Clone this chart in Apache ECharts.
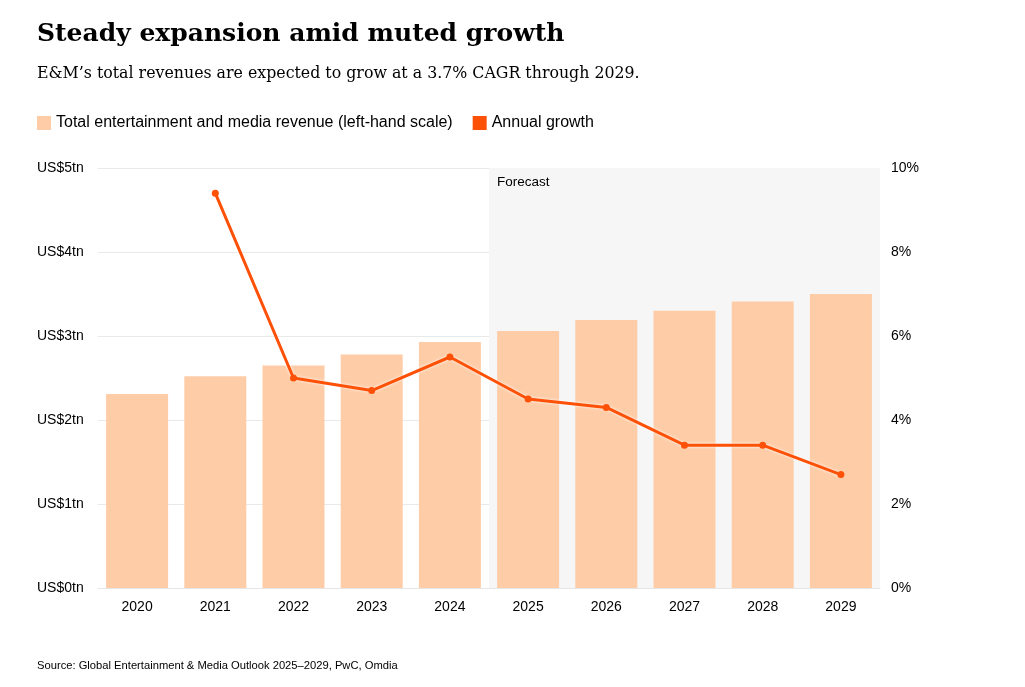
<!DOCTYPE html>
<html><head><meta charset="utf-8">
<script src="https://cdn.jsdelivr.net/npm/echarts@6/dist/echarts.min.js"></script>
<style>html,body{margin:0;padding:0;background:#fff}#c{width:1025px;height:687px}</style>
</head><body><div id="c"></div>
<script>
const years = ['2020','2021','2022','2023','2024','2025','2026','2027','2028','2029'];
const revenue = [2.31, 2.52, 2.65, 2.78, 2.93, 3.06, 3.19, 3.30, 3.41, 3.50];
const growth = [null, 9.4, 5.0, 4.7, 5.5, 4.5, 4.3, 3.4, 3.4, 2.7];
const leftTicks = ['US$0tn','US$1tn','US$2tn','US$3tn','US$4tn','US$5tn'];
const forecastStart = 5, forecastEnd = 10;

const chart = echarts.init(document.getElementById('c'));
chart.setOption({
  animation: false,
  textStyle: {fontFamily: 'Liberation Sans, Arial, sans-serif'},
  title: [
    {text: 'Steady expansion amid muted growth', left: 37, top: 22, padding: 0,
     textStyle: {fontFamily: 'DejaVu Serif, serif', fontWeight: 'bold', fontSize: 25, color: '#000'}},
    {text: 'E&M’s total revenues are expected to grow at a 3.7% CAGR through 2029.', left: 37, top: 66, padding: 0,
     textStyle: {fontFamily: 'DejaVu Serif, serif', fontWeight: 'normal', fontSize: 15.8, color: '#000'}},
    {text: 'Source: Global Entertainment & Media Outlook 2025–2029, PwC, Omdia', left: 37, top: 660, padding: 0,
     textStyle: {fontFamily: 'Liberation Sans, Arial, sans-serif', fontWeight: 'normal', fontSize: 11.2, color: '#000'}}
  ],
  legend: {
    left: 37, top: 115, padding: 0, icon: 'rect', itemWidth: 14, itemHeight: 14, itemGap: 20,
    textStyle: {fontSize: 16, color: '#000'},
    data: ['Total entertainment and media revenue (left-hand scale)', 'Annual growth']
  },
  grid: {left: 98, right: 145, top: 168, bottom: 99},
  xAxis: [
    {type: 'category', data: years, axisTick: {show: false},
     axisLine: {lineStyle: {color: '#e6e6e6'}},
     axisLabel: {color: '#000', fontSize: 14, margin: 12}},
    {type: 'value', min: 0, max: 10, show: false}
  ],
  yAxis: [
    {type: 'value', min: 0, max: 5, interval: 1,
     axisLine: {show: false}, axisTick: {show: false},
     axisLabel: {color: '#000', fontSize: 14, align: 'left', margin: 61,
       formatter: (v) => leftTicks[Math.round(v)]},
     splitLine: {lineStyle: {color: '#e9e9e9'}}},
    {type: 'value', min: 0, max: 10, interval: 2, position: 'right',
     axisLine: {show: false}, axisTick: {show: false},
     axisLabel: {color: '#000', fontSize: 14, margin: 11, formatter: '{value}%'},
     splitLine: {show: false}}
  ],
  series: [
    {name: 'forecast-area', type: 'line', xAxisIndex: 1, yAxisIndex: 0, data: [], silent: true,
     markArea: {silent: true, itemStyle: {color: '#f6f6f6'},
       label: {show: true, position: 'insideTopLeft', color: '#000', fontSize: 13.5, distance: 8, offset: [0, -1]},
       data: [[{name: 'Forecast', xAxis: forecastStart}, {xAxis: forecastEnd}]]}},
    {name: 'Total entertainment and media revenue (left-hand scale)', type: 'bar', data: revenue,
     barWidth: 62, itemStyle: {color: '#FECDA8'}},
    {name: 'Annual growth', type: 'line', yAxisIndex: 1, data: growth,
     symbol: 'circle', symbolSize: 7, color: '#FD5108',
     lineStyle: {width: 3, color: '#FD5108', shadowColor: '#fff', shadowBlur: 3},
     itemStyle: {color: '#FD5108'}}
  ]
});
</script></body></html>
